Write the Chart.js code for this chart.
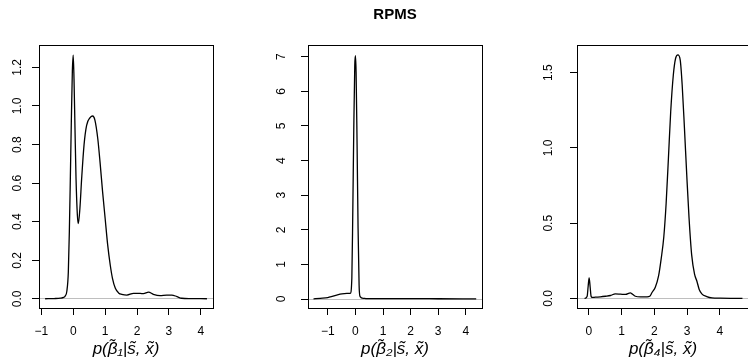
<!DOCTYPE html>
<html><head><meta charset="utf-8">
<script src="https://cdn.jsdelivr.net/npm/chart.js@4.4.1/dist/chart.umd.min.js"></script>
<style>
html,body{margin:0;padding:0;background:#fff;overflow:hidden}
#wrap{position:relative;width:748px;height:360px;overflow:hidden;background:#fff}
canvas{position:absolute;top:0}
</style></head><body>
<div id="wrap">
<canvas id="c1" width="249" height="360" style="left:0px;width:249px;height:360px"></canvas>
<canvas id="c2" width="250" height="360" style="left:249px;width:250px;height:360px"></canvas>
<canvas id="c3" width="261" height="360" style="left:499px;width:261px;height:360px"></canvas>
</div>
<script>
// ---- data ----
const mainTitle = "RPMS";
const xTitle1 = "p(\u03B2\u0303\u2081|s\u0303, x\u0303)";
const xTitle2 = "p(\u03B2\u0303\u2082|s\u0303, x\u0303)";
const xTitle3 = "p(\u03B2\u0303\u2084|s\u0303, x\u0303)";

const x1 = [-0.88, -0.6, -0.4, -0.3, -0.25, -0.2, -0.153, -0.121, -0.09, -0.059, -0.027, 0.0, 0.025, 0.056, 0.088, 0.13, 0.16, 0.21, 0.265, 0.34, 0.42, 0.53, 0.61, 0.68, 0.77, 0.84, 0.92, 1.0, 1.08, 1.16, 1.23, 1.32, 1.43, 1.52, 1.68, 1.89, 2.1, 2.2, 2.36, 2.51, 2.72, 2.93, 3.09, 3.25, 3.4, 3.67, 4.19];
const y1 = [0.001, 0.002, 0.004, 0.008, 0.015, 0.04, 0.14, 0.35, 0.625, 0.92, 1.18, 1.264, 1.14, 0.88, 0.625, 0.435, 0.39, 0.47, 0.625, 0.80, 0.90, 0.94, 0.948, 0.927, 0.83, 0.71, 0.556, 0.418, 0.28, 0.176, 0.107, 0.055, 0.03, 0.024, 0.02, 0.029, 0.029, 0.027, 0.035, 0.024, 0.017, 0.02, 0.02, 0.012, 0.0035, 0.002, 0.001];

const x2 = [-1.52, -1.28, -1.0, -0.92, -0.68, -0.49, -0.31, -0.19, -0.13, -0.096, -0.06, -0.024, 0.0, 0.024, 0.06, 0.096, 0.133, 0.17, 0.29, 0.41, 1.0, 2.0, 3.0, 4.38];
const y2 = [0.005, 0.02, 0.04, 0.06, 0.115, 0.15, 0.16, 0.16, 0.6, 2.5, 4.9, 6.75, 7.03, 6.56, 4.45, 2.04, 0.4, 0.07, 0.02, 0.01, 0.01, 0.01, 0.008, 0.005];

const x3 = [-0.13, -0.05, -0.02, 0.01, 0.04, 0.07, 0.1, 0.2, 0.355, 0.51, 0.66, 0.81, 0.97, 1.12, 1.27, 1.32, 1.42, 1.58, 1.78, 1.86, 1.93, 2.03, 2.13, 2.21, 2.29, 2.36, 2.43, 2.5, 2.58, 2.65, 2.72, 2.79, 2.85, 2.92, 2.99, 3.06, 3.14, 3.23, 3.3, 3.37, 3.45, 3.6, 3.76, 4.01, 4.4, 4.69];
const y3 = [0.0, 0.015, 0.08, 0.137, 0.08, 0.015, 0.007, 0.009, 0.011, 0.015, 0.02, 0.031, 0.029, 0.027, 0.038, 0.031, 0.015, 0.011, 0.011, 0.015, 0.04, 0.075, 0.15, 0.265, 0.41, 0.63, 0.93, 1.24, 1.485, 1.596, 1.618, 1.585, 1.42, 1.13, 0.82, 0.535, 0.29, 0.16, 0.115, 0.06, 0.031, 0.013, 0.004, 0.002, 0.001, 0.001];

const xTicks1 = [-1, 0, 1, 2, 3, 4];
const xLabels1 = ["\u22121", "0", "1", "2", "3", "4"];
const yTicks1 = [0, 0.2, 0.4, 0.6, 0.8, 1.0, 1.2];
const yLabels1 = ["0.0", "0.2", "0.4", "0.6", "0.8", "1.0", "1.2"];

const xTicks2 = [-1, 0, 1, 2, 3, 4];
const xLabels2 = ["\u22121", "0", "1", "2", "3", "4"];
const yTicks2 = [0, 1, 2, 3, 4, 5, 6, 7];
const yLabels2 = ["0", "1", "2", "3", "4", "5", "6", "7"];

const xTicks3 = [0, 1, 2, 3, 4];
const xLabels3 = ["0", "1", "2", "3", "4"];
const yTicks3 = [0, 0.5, 1.0, 1.5];
const yLabels3 = ["0.0", "0.5", "1.0", "1.5"];

// ---- drawing ----
const FONT = "'Liberation Sans', Arial, Helvetica, sans-serif";

const boxPlugin = {
  id: 'box',
  afterDraw(chart) {
    const {ctx, chartArea: a} = chart;
    ctx.save();
    ctx.strokeStyle = '#000';
    ctx.lineWidth = 1;
    const l = Math.round(a.left) + 0.5, t = Math.round(a.top) + 0.5;
    const r = Math.round(a.right) + 0.5, b = Math.round(a.bottom) + 0.5;
    ctx.strokeRect(l, t, r - l, b - t);
    ctx.restore();
  }
};

function panel(id, xs, ys, xr, yr, xTicks, xLabels, yTicks, yLabels, xTitle, g, titleText) {
  const titleOpts = titleText ? {
    display: true, text: titleText, fullSize: false, color: '#000',
    font: {family: FONT, size: 15, weight: 'bold'}, padding: {top: 6, bottom: 21}
  } : {display: false};
  return new Chart(document.getElementById(id), {
    type: 'line',
    data: {
      datasets: [{
        data: xs.map((x, i) => ({x: x, y: ys[i]})),
        borderColor: '#000', borderWidth: 1.3, pointRadius: 0,
        cubicInterpolationMode: 'monotone', fill: false
      }]
    },
    options: {
      responsive: false, animation: false, events: [],
      layout: {padding: {left: 0, right: g.padRight, top: titleText ? 0 : 45, bottom: 0}},
      plugins: {legend: {display: false}, tooltip: {enabled: false}, title: titleOpts},
      scales: {
        x: {
          type: 'linear', min: xr[0], max: xr[1], bounds: 'data',
          afterBuildTicks: s => { s.ticks = xTicks.map(v => ({value: v})); },
          afterFit: s => { s.height = 52; },
          grid: {display: true, drawOnChartArea: false, drawTicks: true, tickLength: 7,
                 tickColor: '#000', tickWidth: 1, color: 'rgba(0,0,0,0)'},
          border: {display: false},
          ticks: {color: '#000', font: {family: FONT, size: 12}, padding: 9,
                  minRotation: 0, maxRotation: 0, autoSkip: false,
                  callback: (v, i) => xLabels[i]},
          title: {display: true, text: xTitle, color: '#000',
                  font: {family: FONT, size: 17, style: 'italic'}, padding: {top: 0, bottom: 1}}
        },
        y: {
          type: 'linear', min: yr[0], max: yr[1], bounds: 'data',
          afterBuildTicks: s => { s.ticks = yTicks.map(v => ({value: v})); },
          afterFit: s => { s.width = g.yW; },
          grid: {display: true, drawOnChartArea: true, drawTicks: true, tickLength: 7,
                 tickColor: '#000', tickWidth: 1, lineWidth: 1,
                 color: c => (c.tick && c.tick.value === 0) ? '#bebebe' : 'rgba(0,0,0,0)'},
          border: {display: false},
          ticks: {color: '#000', font: {family: FONT, size: 12}, padding: g.yPad,
                  minRotation: 90, maxRotation: 90, crossAlign: 'center', autoSkip: false,
                  callback: (v, i) => yLabels[i]}
        }
      }
    },
    plugins: [boxPlugin]
  });
}

panel('c1', x1, y1, [-1.072, 4.38], [-0.047, 1.316], xTicks1, xLabels1, yTicks1, yLabels1, xTitle1,
      {yW: 39, padRight: 36, yPad: 5.8}, null);
panel('c2', x2, y2, [-1.72, 4.59], [-0.26, 7.34], xTicks2, xLabels2, yTicks2, yLabels2, xTitle2,
      {yW: 59, padRight: 17, yPad: 15.7}, mainTitle);
panel('c3', x3, y3, [-0.36, 4.89], [-0.063, 1.684], xTicks3, xLabels3, yTicks3, yLabels3, xTitle3,
      {yW: 78, padRight: 11, yPad: 13.3}, null);
</script>
</body></html>
